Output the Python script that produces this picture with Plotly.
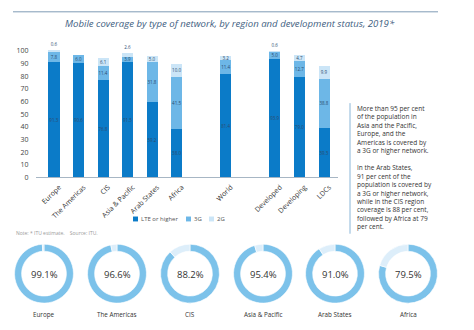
import plotly.graph_objects as go

# ---------------- data ----------------
categories = ["Europe", "The Americas", "CIS", "Asia & Pacific", "Arab States", "Africa",
              "", "World", "", "Developed", "Developing", "LDCs"]
lte = [91.3, 90.6, 76.8, 91.5, 59.2, 38.0, None, 81.4, None, 93.9, 79.0, 39.3]
g3 = [7.8, 6.0, 11.4, 3.9, 31.8, 41.5, None, 11.4, None, 5.0, 12.7, 38.8]
g2 = [0.6, 0.0, 6.1, 2.6, 5.0, 10.0, None, 3.2, None, 0.6, 4.7, 9.9]
series_names = ["LTE or higher", "3G", "2G"]
series_colors = ["#0b7bc8", "#6db7e7", "#cbe5f7"]

yticks = [0, 10, 20, 30, 40, 50, 60, 70, 80, 90, 100]

donut_regions = ["Europe", "The Americas", "CIS", "Asia & Pacific", "Arab States", "Africa"]
donut_values = [99.1, 96.6, 88.2, 95.4, 91.0, 79.5]
donut_colors = ["#7cc2ea", "#ddeefa"]

title = "Mobile coverage by type of network, by region and development status, 2019*"
note = "Note: * ITU estimate.    Source: ITU."
side_text = [
    "More than 95 per cent", "of the population in", "Asia and the Pacific,",
    "Europe, and the", "Americas is covered by", "a 3G or higher network.", "",
    "In the Arab States,", "91 per cent of the", "population is covered by",
    "a 3G or higher network,", "while in the CIS region", "coverage is 88 per cent,",
    "followed by Africa at 79", "per cent.",
]

# ---------------- figure ----------------
W, H = 474, 330
def px(x): return x / W
def py(y): return 1 - y / H

FONT = "Open Sans"
xs = list(range(len(categories)))

def fmt(v):
    if v is None or v == 0:
        return ""
    return f"{v:.1f}"

fig = go.Figure()
traces = [lte, g3, g2]
for k, (vals, name, col) in enumerate(zip(traces, series_names, series_colors)):
    is_top = k == len(traces) - 1
    positions = [("outside" if (is_top and v is not None and v < 3) else "inside") for v in vals]
    fig.add_trace(go.Bar(
        x=xs, y=vals, name=name, marker=dict(color=col, line=dict(width=0)),
        width=0.45, text=[fmt(v) for v in vals], textposition=positions,
        insidetextanchor="middle", textangle=0, constraintext="none",
        textfont=dict(size=4.5, color="#2b4c6f", family=FONT),
        outsidetextfont=dict(size=4.5, color="#2b4c6f", family=FONT),
        cliponaxis=False, showlegend=False, hoverinfo="skip",
    ))

def ann(x, y, text, size, color, xanchor="center", yanchor="middle", align="center"):
    return dict(x=px(x), y=py(y), xref="paper", yref="paper", text=text,
                xanchor=xanchor, yanchor=yanchor, align=align, showarrow=False,
                font=dict(size=size, color=color, family=FONT))

# donuts
centers_x = [44, 117, 190, 263, 335, 408]
cy, r = 276.7, 30
annotations = []
for i, (reg, val) in enumerate(zip(donut_regions, donut_values)):
    cx = centers_x[i]
    fig.add_trace(go.Pie(
        values=[val, 100 - val], labels=["covered", "not covered"],
        hole=0.76, sort=False, direction="clockwise", rotation=0,
        marker=dict(colors=donut_colors, line=dict(color="white", width=0.6)),
        textinfo="none", hoverinfo="skip", showlegend=False,
        domain=dict(x=[px(cx - r), px(cx + r)], y=[py(cy + r), py(cy - r)]),
    ))
    annotations.append(ann(cx, cy + 1, f"{val:.1f}%", 9.5, "#333333"))
    annotations.append(ann(cx, 318, reg, 6.3, "#333333"))

# title
annotations.append(ann(230, 22, f"<i>{title}</i>", 9.6, "#3f6182"))
# note
annotations.append(ann(14, 235, note, 5, "#9a9a9a", xanchor="left"))
# side text
annotations.append(ann(355, 102, "<br>".join(side_text), 6.5, "#333333",
                       xanchor="left", yanchor="top", align="left"))

# manual legend
shapes = []
leg_items = [(133, 139), (186, 192), (209, 215)]
for (sx, tx), name, col in zip(leg_items, series_names, series_colors):
    shapes.append(dict(type="rect", xref="paper", yref="paper",
                       x0=px(sx), x1=px(sx + 5), y0=py(223.5), y1=py(218.5),
                       fillcolor=col, line=dict(width=0)))
    annotations.append(ann(tx, 221, name, 6, "#555555", xanchor="left"))

# title rule and side rule
shapes.append(dict(type="line", xref="paper", yref="paper", x0=px(13), x1=px(438),
                   y0=py(10), y1=py(10), line=dict(color="#7f9bb5", width=1)))
shapes.append(dict(type="line", xref="paper", yref="paper", x0=px(350), x1=px(350),
                   y0=py(103), y1=py(236), line=dict(color="#8ab6d8", width=1)))

# axes geometry: y=0 at 178.7px, 10 units = 12.9px; x slot 24.55px, index 0 at 54px
y0px, upx = 178.7, 1.29
ytop = 102
x0px, slot = 54, 24.55
xr = [-0.75, 11.55]

fig.update_layout(
    width=W, height=H, margin=dict(l=0, r=0, t=0, b=0),
    paper_bgcolor="white", plot_bgcolor="white",
    barmode="stack", bargap=0.5,
    annotations=annotations, shapes=shapes, showlegend=False,
    xaxis=dict(domain=[px(x0px + xr[0] * slot), px(x0px + xr[1] * slot)], range=xr,
               tickmode="array", tickvals=xs, ticktext=categories, tickangle=-45,
               tickfont=dict(size=7, color="#333333", family=FONT),
               ticklabelshift=5, ticklabelstandoff=2,
               showline=True, linecolor="#a7b6c4", linewidth=1, showgrid=False,
               zeroline=False, ticks="", fixedrange=True),
    yaxis=dict(domain=[py(y0px), py(y0px - ytop * upx)], range=[0, ytop],
               tickmode="array", tickvals=yticks,
               tickfont=dict(size=7, color="#444444", family=FONT),
               showgrid=False, zeroline=False, showline=False, ticks="",
               ticklabelstandoff=6, fixedrange=True),
    font=dict(family=FONT),
)

fig.write_html("out.html")
